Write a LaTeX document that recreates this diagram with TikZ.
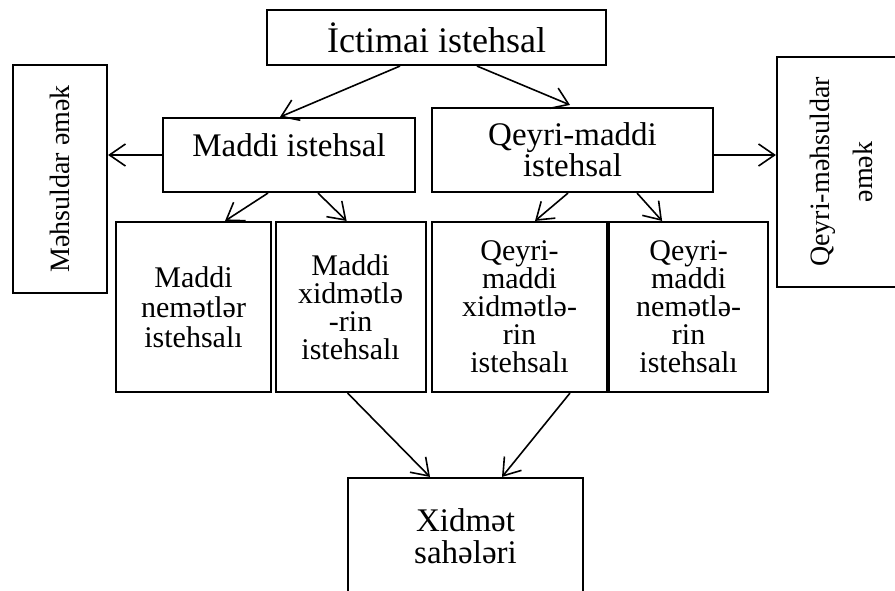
\documentclass[tikz,border=0pt]{standalone}
\usepackage{fontspec}
\setmainfont{Liberation Serif}
\usetikzlibrary{arrows.meta,positioning,calc}

\tikzset{
  box/.style={draw,line width=2.1pt,align=center,inner sep=2pt},
  arr/.style={-{Straight Barb[length=16pt,width=22pt]},line width=1.6pt}
}
\newcommand{\bigf}[2]{\fontsize{#1}{#2}\selectfont}

\begin{document}
\begin{tikzpicture}[x=1pt,y=-1pt]
  \useasboundingbox (0,0) rectangle (895,590);

  \node[box,minimum width=339pt,minimum height=55pt,font=\bigf{36}{36}] (ict) at (436.5,37.5) {İctimai istehsal};

  \node[box,minimum width=252pt,minimum height=74pt,text depth=20pt,font=\bigf{33}{30}] (mad) at (289,155) {Maddi istehsal};
  \node[box,minimum width=281pt,minimum height=84pt,font=\bigf{33}{30}] (qmad) at (572.5,150) {Qeyri-maddi\\istehsal};

  \node[box,minimum width=94pt,minimum height=228pt,font=\bigf{28}{28}] (mehs) at (60,179) {\rotatebox{90}{Məhsuldar əmək}};
  \node[box,minimum width=130pt,minimum height=230pt,font=\bigf{28}{43}] (qmehs) at (842,172) {\rotatebox{90}{\begin{tabular}{@{}c@{}}Qeyri-məhsuldar\\əmək\end{tabular}}};

  \node[box,minimum width=155pt,minimum height=170pt,font=\bigf{30}{30}] (mn) at (193.5,307) {Maddi\\nemətlər\\istehsalı};
  \node[box,minimum width=150pt,minimum height=170pt,font=\bigf{30}{28},right=2.5pt of mn] (mx) {Maddi\\xidmətlə\\-rin\\istehsalı};
  \node[box,minimum width=175pt,minimum height=170pt,font=\bigf{30}{28},right=4.3pt of mx] (qmx) {Qeyri-\\maddi\\xidmətlə-\\rin\\istehsalı};
  \node[box,minimum width=159pt,minimum height=170pt,font=\bigf{30}{28},right=0pt of qmx] (qmn) {Qeyri-\\maddi\\nemətlə-\\rin\\istehsalı};

  \node[box,minimum width=235pt,minimum height=116pt,font=\bigf{33}{32}] (xid) at (465.5,536) {Xidmət\\sahələri};

  \draw[arr] ([xshift=-36.5pt]ict.south) -- ([xshift=-9pt]mad.north);
  \draw[arr] ([xshift=40.5pt]ict.south) -- ([xshift=-2.5pt,yshift=2pt]qmad.north);

  \draw[arr] (mad.west) -- (mad.west -| mehs.east);
  \draw[arr] ([yshift=-5pt]qmad.east) -- ([yshift=-5pt]qmad.east -| qmehs.west);

  \draw[arr] ([xshift=-21pt]mad.south) -- ([xshift=31.5pt]mn.north);
  \draw[arr] ([xshift=29pt]mad.south) -- ([xshift=-4pt]mx.north);
  \draw[arr] ([xshift=-4.5pt]qmad.south) -- ([xshift=15.5pt]qmx.north);
  \draw[arr] ([xshift=64.5pt]qmad.south) -- ([xshift=-26.5pt]qmn.north);

  \draw[arr] ([xshift=-3pt]mx.south) -- ([xshift=-35.5pt]xid.north);
  \draw[arr] ([xshift=50.5pt]qmx.south) -- ([xshift=36.5pt]xid.north);

\end{tikzpicture}
\end{document}
